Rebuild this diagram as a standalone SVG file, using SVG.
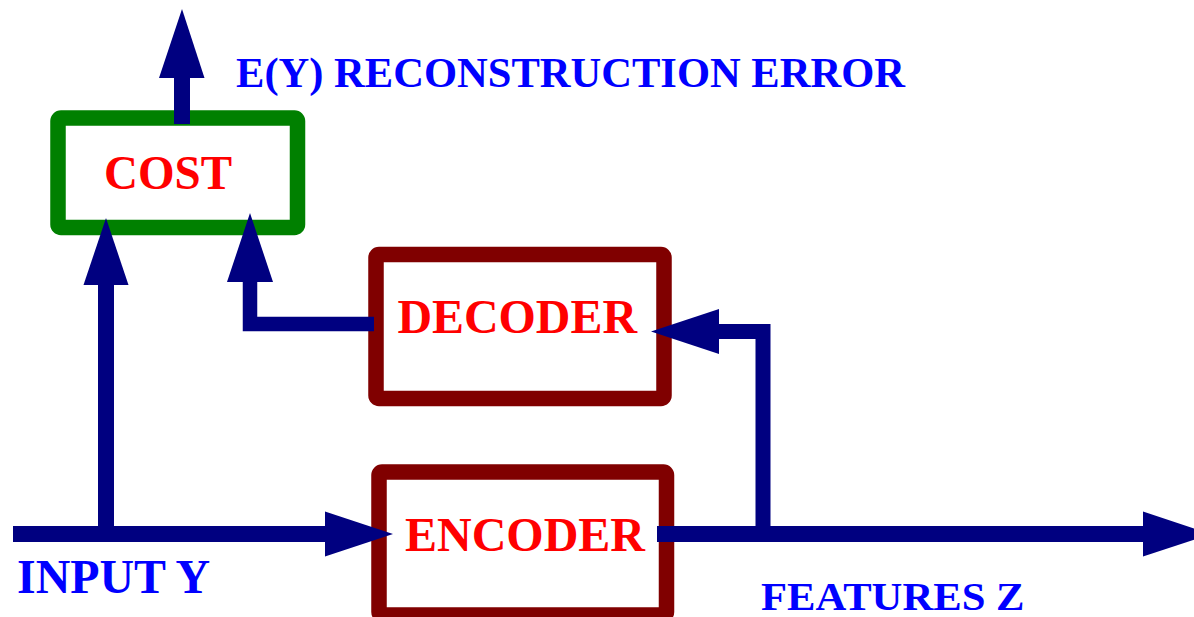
<svg xmlns="http://www.w3.org/2000/svg" width="1194" height="617" viewBox="0 0 1194 617">
<defs>
<style>
.lbl{font-family:"Liberation Serif","Times New Roman",serif;font-weight:bold}
.blue{fill:#0000ff}
.red{fill:#ff0000}
.box{fill:#ffffff;stroke-width:15.5;stroke-linejoin:round}
.wire{fill:none;stroke:#000080;stroke-linejoin:miter}
.head{fill:#000080}
</style>
</defs>
<rect width="1194" height="617" fill="#ffffff"/>
<g id="cost">
<rect class="box" x="58" y="118" width="239.5" height="109.5" rx="3" stroke="#008000"/>
<text class="lbl red" x="104" y="189" font-size="48" textLength="128" lengthAdjust="spacingAndGlyphs">COST</text>
</g>
<g id="decoder">
<rect class="box" x="376" y="254.5" width="288" height="144" rx="3" stroke="#800000"/>
<text class="lbl red" x="397.5" y="333" font-size="48" textLength="239.5" lengthAdjust="spacingAndGlyphs">DECODER</text>
</g>
<g id="encoder">
<rect class="box" x="379" y="472" width="287.5" height="143" rx="3" stroke="#800000"/>
<text class="lbl red" x="405" y="551" font-size="48" textLength="240" lengthAdjust="spacingAndGlyphs">ENCODER</text>
</g>
<g id="connectors">
<line class="wire" x1="182" y1="124" x2="182" y2="77" stroke-width="16"/>
<polygon class="head" points="159,78 182,9 204.5,78"/>
<line class="wire" x1="13" y1="534" x2="326" y2="534" stroke-width="16"/>
<polygon class="head" points="325,511.5 393,534 325,556.5"/>
<line class="wire" x1="106" y1="534" x2="106" y2="284" stroke-width="16"/>
<polygon class="head" points="83.5,285 106,218 128.5,285"/>
<polyline class="wire" points="374,324 250,324 250,281" stroke-width="14.5"/>
<polygon class="head" points="227,282 250,213 273,282"/>
<line class="wire" x1="657" y1="534" x2="1144" y2="534" stroke-width="16"/>
<polygon class="head" points="1143,511.5 1211,534 1143,556.5"/>
<polyline class="wire" points="763,534 763,331.5 718,331.5" stroke-width="15"/>
<polygon class="head" points="719,309 651,331.5 719,354"/>
</g>
<g id="labels">
<text class="lbl blue" x="236" y="87" font-size="43" textLength="669" lengthAdjust="spacingAndGlyphs">E(Y) RECONSTRUCTION ERROR</text>
<text class="lbl blue" x="17" y="593" font-size="48" textLength="193" lengthAdjust="spacingAndGlyphs">INPUT Y</text>
<text class="lbl blue" x="761" y="610" font-size="41" textLength="263.5" lengthAdjust="spacingAndGlyphs">FEATURES Z</text>
</g>
</svg>
